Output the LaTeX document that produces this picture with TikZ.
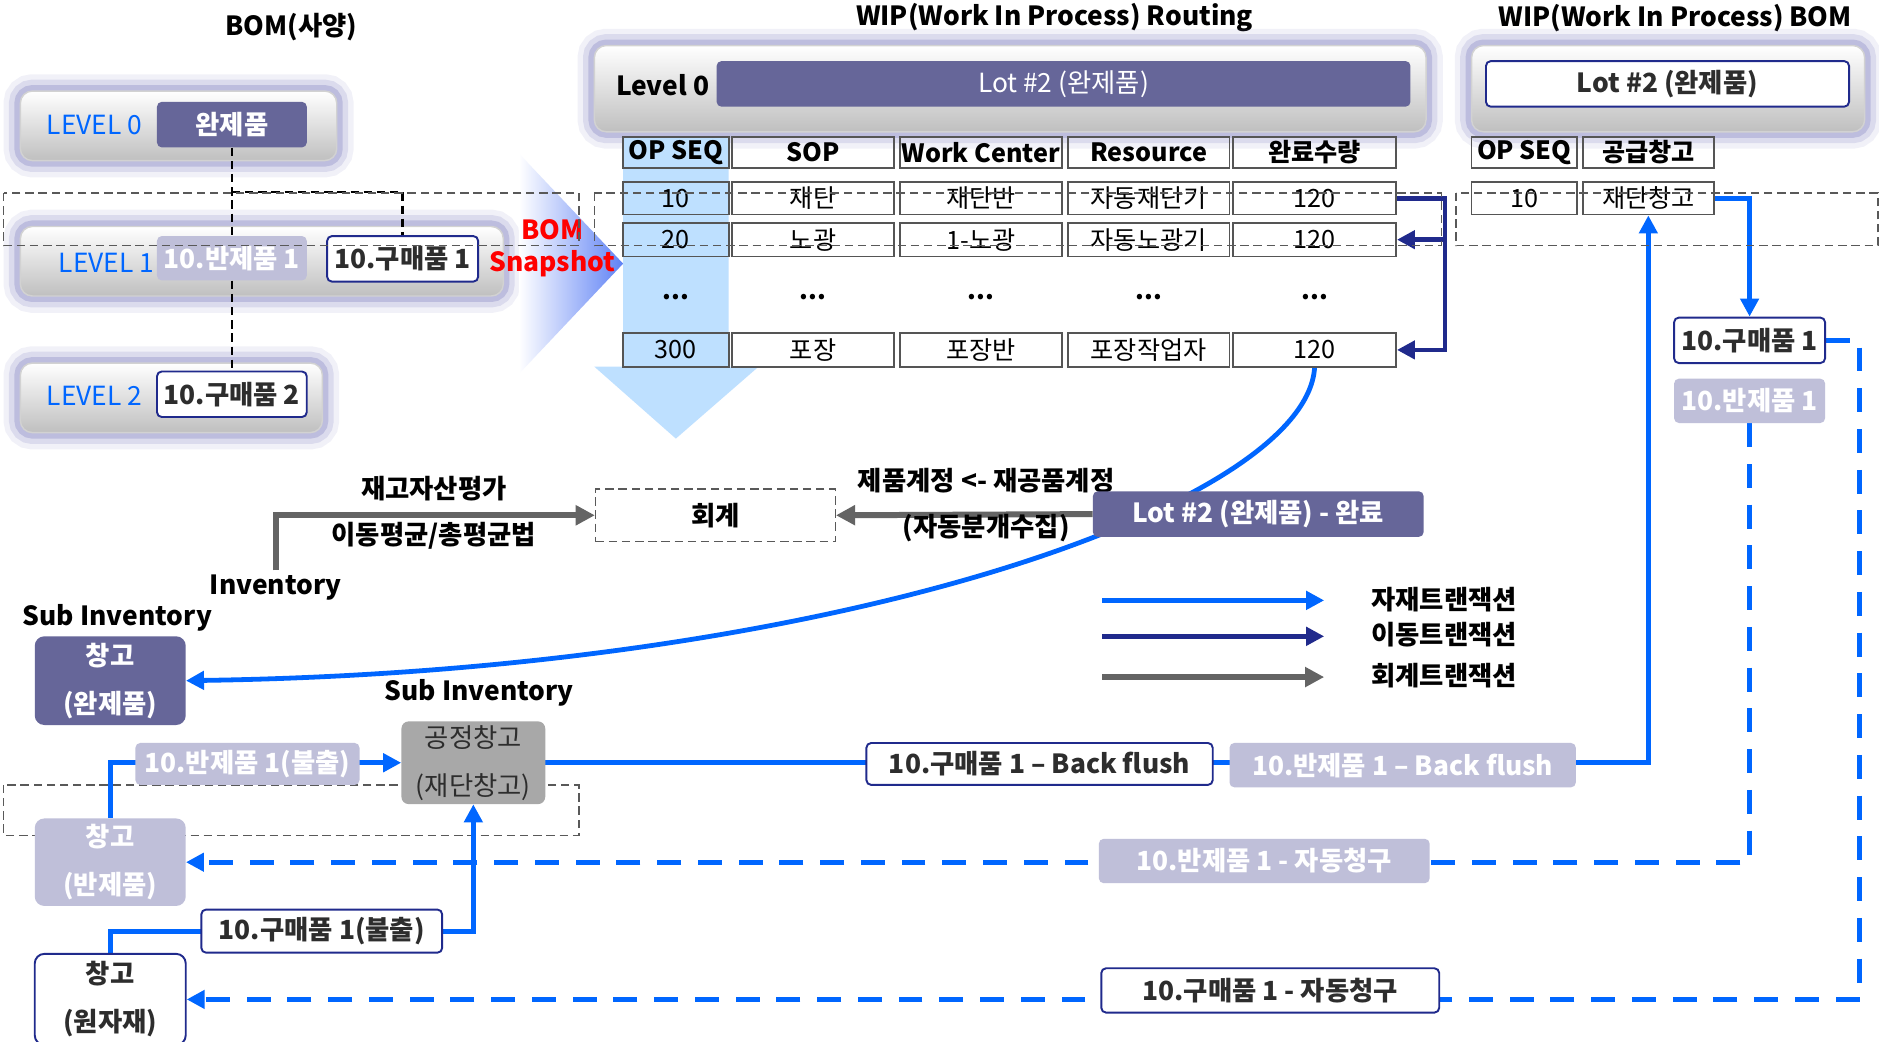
\documentclass[tikz,border=0pt]{standalone}
\usepackage{fontspec}
\setmainfont{Noto Sans CJK KR}
\usetikzlibrary{arrows.meta,calc,positioning}
\definecolor{lotpurple}{RGB}{102,102,153}
\definecolor{semigray}{RGB}{191,191,217}
\definecolor{navy}{RGB}{32,42,140}
\definecolor{matblue}{RGB}{0,102,255}
\definecolor{accgray}{RGB}{100,100,100}
\definecolor{glowc}{RGB}{120,120,190}
\definecolor{colblue}{RGB}{190,224,255}
\definecolor{snapblue}{RGB}{95,130,245}
\definecolor{cellline}{RGB}{85,85,85}
\definecolor{txtgray}{RGB}{45,45,45}
\definecolor{lvblue}{RGB}{0,102,255}
\newcommand\boxfont{\fontsize{22}{26}\selectfont}
\newcommand\twofont{\fontsize{22}{40}\selectfont}
\newcommand\cellfont{\fontsize{21}{25}\selectfont}
\pgfdeclarelayer{back}
\pgfsetlayers{back,main}
\tikzset{
	panel/.style={rounded corners=10pt, draw=gray!35, line width=1.2pt,
		top color=white, bottom color=gray!50,
		preaction={draw=glowc, line width=28pt, draw opacity=.10},
		preaction={draw=glowc, line width=19pt, draw opacity=.18},
		preaction={draw=glowc, line width=10pt, draw opacity=.30}},
	lotbox/.style={fill=lotpurple, rounded corners=4pt, text=white, inner sep=0pt},
	semibox/.style={fill=semigray, rounded corners=4pt, text=white, font=\boxfont\bfseries, inner sep=0pt},
	buybox/.style={draw=navy, line width=1.6pt, fill=white, rounded corners=4pt, text=txtgray, font=\boxfont\bfseries, inner sep=0pt},
	tcell/.style={draw=cellline, line width=1.5pt, inner sep=0pt, font=\cellfont},
	headcell/.style={tcell, font=\cellfont\bfseries},
	dashbox/.style={draw=gray!70!black, line width=1.2pt, dash pattern=on 7pt off 4pt},
	tree/.style={black, line width=2pt, dash pattern=on 7pt off 4pt},
	mat/.style={matblue, line width=4pt, -{Triangle[length=15pt,width=15pt]}},
	matdash/.style={mat, dash pattern=on 20pt off 14pt},
	mv/.style={navy, line width=4pt, -{Triangle[length=15pt,width=15pt]}},
	acc/.style={accgray, line width=5pt, -{Triangle[length=16pt,width=16pt]}},
	ttl/.style={font=\boxfont\bfseries},
}
\begin{document}
\begin{tikzpicture}[x=1pt, y=-1pt, font=\boxfont]
	\useasboundingbox (0,0) rectangle (1568,869);
	\begin{pgfonlayer}{back}
		\fill[white] (0,0) rectangle (1568,869);
	\end{pgfonlayer}
	% BOM (spec)
	\node (bomt) [ttl] at (243,23) {BOM(사양)};
	\node (lv0) [panel, minimum width=264pt, minimum height=58pt] at (149,105) {};
	\node (lv1) [panel, minimum width=403pt, minimum height=58pt] at (218.5,218) {};
	\node (lv2) [panel, minimum width=252pt, minimum height=58pt] at (143,332) {};
	\node (lv0t) [text=lvblue] at (79,104) {LEVEL 0};
	\node (lv1t) [text=lvblue] at (89,219) {LEVEL 1};
	\node (lv2t) [text=lvblue] at (79,330) {LEVEL 2};
	\node (fin) [lotbox, font=\boxfont\bfseries, minimum width=125pt, minimum height=38pt] at (193.5,104) {완제품};
	\node (semi) [semibox, minimum width=125pt, minimum height=37pt] at (193.5,215.5) {10.반제품 1};
	\node (buya) [buybox, minimum width=126pt, minimum height=38pt] at (336,216) {10.구매품 1};
	\node (buyb) [buybox, minimum width=125pt, minimum height=38pt] at (193.5,329) {10.구매품 2};
	\draw[tree] (fin.south) -- (semi.north);
	\draw[tree] ($(fin.south)!.5!(semi.north)$) -| (buya.north);
	\draw[tree] (semi.south) -- (buyb.north);
	% BOM snapshot
	\shade[left color=white, right color=snapblue] (433,128) -- (520,220) -- (433,312) -- cycle;
	\node (snap) [text=red, font=\fontsize{22}{27}\selectfont\bfseries, align=center] at (461,207) {BOM\\Snapshot};
	% WIP routing
	\node (rtt) [ttl] at (880,15) {WIP(Work In Process) Routing};
	\node (rtp) [panel, minimum width=694pt, minimum height=72pt] at (843,74) {};
	\node (rtl) [font=\boxfont\bfseries] at (553,71) {Level 0};
	\node (rtlot) [lotbox, minimum width=579pt, minimum height=38pt] at (887.5,70) {Lot \#2 (완제품)};
	\fill[colblue] (520,114) -- (608,114) -- (608,306) -- (633,306) -- (564,366) -- (496,306) -- (520,306) -- cycle;
	\foreach \c/\x/\w/\t in {sq/564/88/OP SEQ, sop/678.5/135/SOP, wc/818.5/135/Work Center, rs/958.5/135/Resource, qt/1097/136/완료수량}
		\node (\c0) [headcell, minimum width=\w pt, minimum height=26pt] at (\x,127) {\t};
	\foreach \c/\x/\w/\a/\b/\d in {sq/564/88/10/20/300, sop/678.5/135/재단/노광/포장, wc/818.5/135/재단반/1-노광/포장반, rs/958.5/135/자동재단기/자동노광기/포장작업자, qt/1097/136/120/120/120} {
		\node (\c1) [tcell, minimum width=\w pt, minimum height=27pt] at (\x,165.5) {\a};
		\node (\c2) [tcell, minimum width=\w pt, minimum height=28pt] at (\x,200) {\b};
		\node (\c9) [font=\cellfont\bfseries] at (\x,248) {...};
		\node (\c3) [tcell, minimum width=\w pt, minimum height=28pt] at (\x,292) {\d};
	}
	% WIP BOM
	\node (bmt) [ttl] at (1398,15) {WIP(Work In Process) BOM};
	\node (bmp) [panel, minimum width=328pt, minimum height=72pt] at (1392,74) {};
	\node (bmlot) [buybox, minimum width=303pt, minimum height=38pt] at (1391.5,70) {Lot \#2 (완제품)};
	\node (bsq0) [headcell, minimum width=88pt, minimum height=26pt] at (1272,127) {OP SEQ};
	\node (bwh0) [headcell, minimum width=109pt, minimum height=26pt] at (1375.5,127) {공급창고};
	\node (bsq1) [tcell, minimum width=88pt, minimum height=27pt] at (1272,165.5) {10};
	\node (bwh1) [tcell, minimum width=109pt, minimum height=27pt] at (1375.5,165.5) {재단창고};
	\node (wbuy) [buybox, minimum width=126pt, minimum height=38pt] at (1460,284) {10.구매품 1};
	\node (wsemi) [semibox, minimum width=126pt, minimum height=37pt] at (1460,334.5) {10.반제품 1};
	% accounting
	\node (val) [font=\boxfont\bfseries] at (362,408) {재고자산평가};
	\node (avg) [font=\boxfont\bfseries] at (362,447) {이동평균/총평균법};
	\node (acct) [dashbox, font=\boxfont\bfseries, minimum width=200pt, minimum height=44pt] at (597,430) {회계};
	\node (jrn) [font=\boxfont\bfseries] at (823,401) {제품계정 <- 재공품계정};
	\node (jrn2) [font=\boxfont\bfseries] at (823,441) {(자동분개수집)};
	\node (done) [lotbox, font=\boxfont\bfseries, minimum width=276pt, minimum height=38pt] at (1050,429) {Lot \#2 (완제품) - 완료};
	% legend
	\foreach \n/\y/\s/\t in {1/501/mat/자재트랜잭션, 2/531/mv/이동트랜잭션, 3/565/acc/회계트랜잭션} {
		\coordinate (lg\n a) at (920,\y);
		\coordinate (lg\n b) at (1105,\y);
		\draw[\s] (lg\n a) -- (lg\n b);
		\node (lg\n) [font=\boxfont\bfseries] at (1205,\y-1) {\t};
	}
	% inventory
	\node (inv) [font=\boxfont\bfseries] at (230,490) {Inventory};
	\node (sub1) [font=\boxfont\bfseries] at (98,516) {Sub Inventory};
	\node (wf) [lotbox, font=\twofont\bfseries, align=center, minimum width=126pt, minimum height=74pt, rounded corners=8pt] at (92,568) {창고\\(완제품)};
	\node (sub2) [font=\boxfont\bfseries] at (400,578) {Sub Inventory};
	\node (pw) [fill=gray!68, rounded corners=6pt, text=txtgray, font=\twofont, align=center, minimum width=120pt, minimum height=69pt, inner sep=0pt] at (395,636.5) {공정창고\\(재단창고)};
	\node (ws) [semibox, font=\twofont\bfseries, align=center, minimum width=126pt, minimum height=73pt, rounded corners=8pt] at (92,719.5) {창고\\(반제품)};
	\node (wr) [buybox, font=\twofont\bfseries, align=center, minimum width=126pt, minimum height=76pt, rounded corners=8pt] at (92,834) {창고\\(원자재)};
	\node (sbo) [semibox, minimum width=187pt, minimum height=35pt] at (206.5,637.5) {10.반제품 1(불출)};
	\node (gbo) [buybox, minimum width=201pt, minimum height=36pt] at (268.5,777) {10.구매품 1(불출)};
	\node (gbf) [buybox, minimum width=289pt, minimum height=35pt] at (867.5,637.5) {10.구매품 1 – Back flush};
	\node (sbf) [semibox, minimum width=289pt, minimum height=37pt] at (1170.5,638.5) {10.반제품 1 – Back flush};
	\node (sac) [semibox, minimum width=276pt, minimum height=37pt] at (1055,718.5) {10.반제품 1 - 자동청구};
	\node (gac) [buybox, minimum width=282pt, minimum height=37pt] at (1060,826.5) {10.구매품 1 - 자동청구};
	% transactions
	\begin{pgfonlayer}{back}
		\draw[dashbox] (3,655) rectangle (483,697);
		\draw[mv] (qt1.east) -- ++(40,0) |- (qt2.east);
		\draw[mv] (qt1.east) -- ++(40,0) |- (qt3.east);
		\draw[mat] (bwh1.east) -| (wbuy.north);
		\draw[mat] (qt3.south) .. controls (1090,420) and (700,560) .. (wf.east);
		\draw[mat] (pw.east) -| (bwh1.south);
		\draw[mat] (ws.north) |- (pw.west);
		\draw[mat] (wr.north) |- (gbo.center) -| (pw.south);
		\draw[matdash] (wsemi.south) |- (ws.east);
		\draw[matdash] (wbuy.east) -- ++(28,0) |- (wr.east);
		\draw[acc] (inv.north) |- (acct.west);
		\draw[acc] (done.west) -- (acct.east);
	\end{pgfonlayer}
	% snapshot frames
	\draw[dashbox] (3,161) rectangle (483,205);
	\draw[dashbox] (496,161) rectangle (1203,205);
	\draw[dashbox] (1215,161) rectangle (1567,205);
\end{tikzpicture}
\end{document}
